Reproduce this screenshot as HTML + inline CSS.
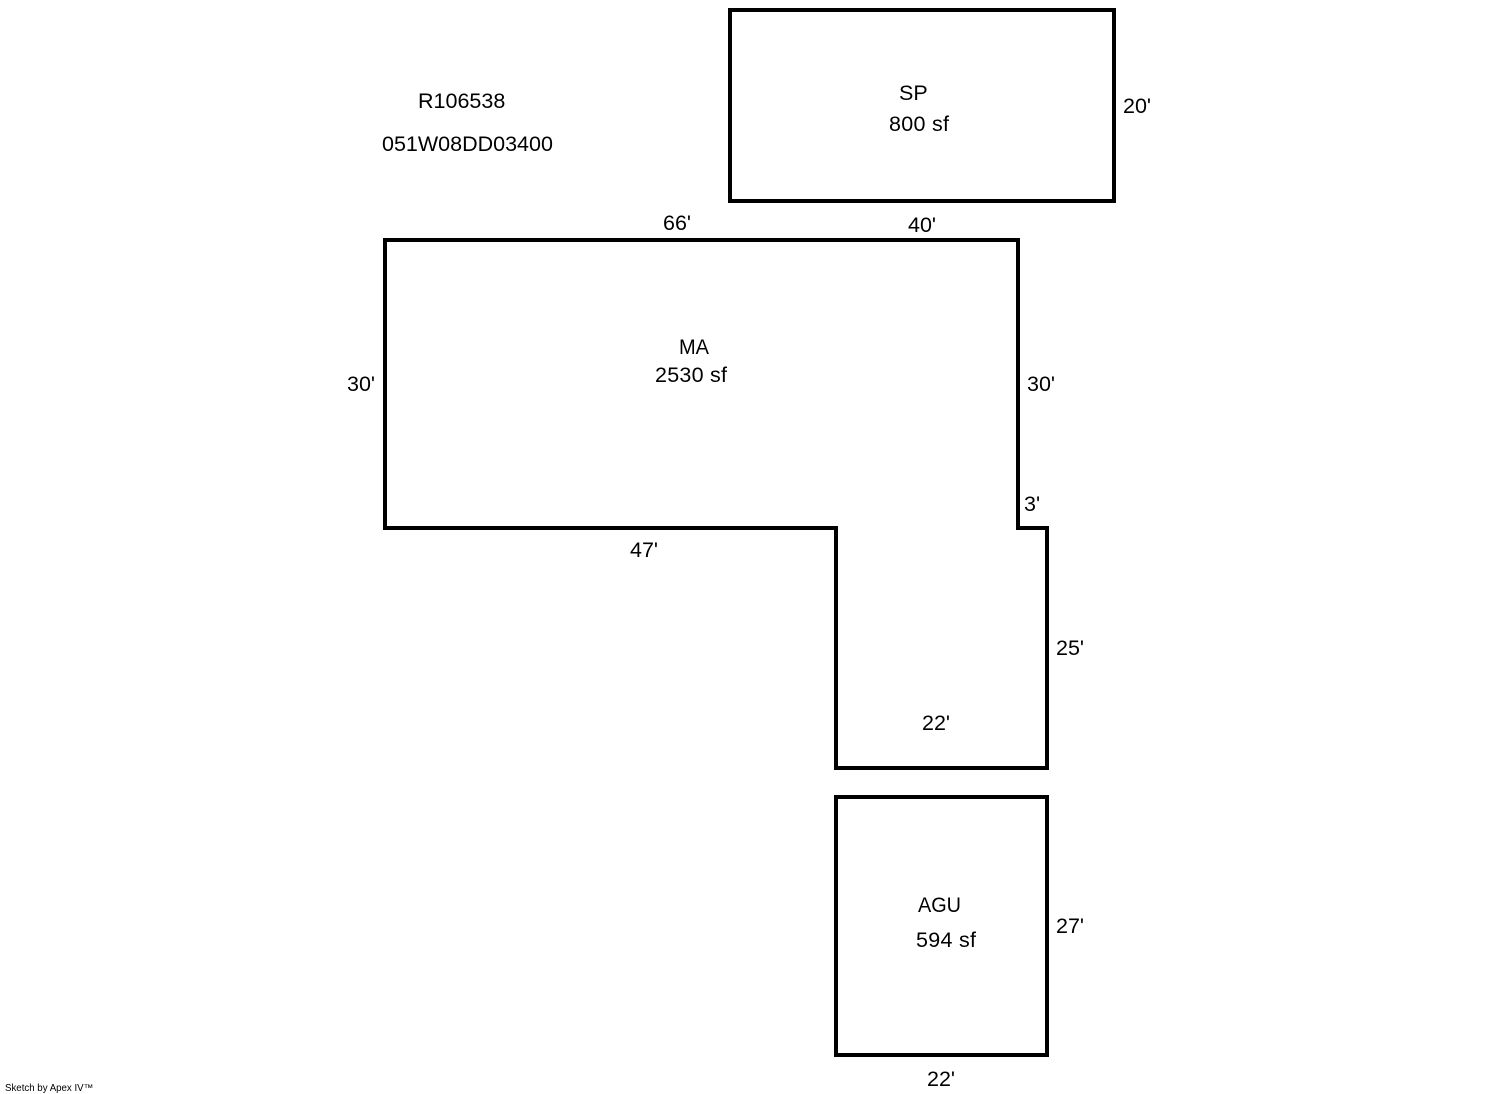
<!DOCTYPE html>
<html>
<head>
<meta charset="utf-8">
<title>Sketch</title>
<style>
html,body{margin:0;padding:0;background:#fff;width:1492px;height:1094px;overflow:hidden}
svg{display:block}
text{font-family:"Liberation Sans",Arial,sans-serif;font-size:21.5px;fill:#000}
</style>
</head>
<body>
<svg width="1492" height="1094" viewBox="0 0 1492 1094" xmlns="http://www.w3.org/2000/svg">
<rect width="1492" height="1094" fill="#fff"/>
<g fill="none" stroke="#000" stroke-width="4" stroke-linejoin="miter" shape-rendering="crispEdges">
<rect x="730" y="10" width="384" height="191"/>
<path d="M385 240H1018V528H1047V768H836V528H385Z"/>
<rect x="836" y="797" width="211" height="258"/>
</g>
<text x="418" y="108">R106538</text>
<text x="382" y="151">051W08DD03400</text>
<text x="899" y="100">SP</text>
<text x="889" y="131" textLength="60">800 sf</text>
<text x="1123" y="113">20'</text>
<text x="663" y="230">66'</text>
<text x="908" y="232">40'</text>
<text x="679" y="354" textLength="30" lengthAdjust="spacingAndGlyphs">MA</text>
<text x="655" y="382" textLength="72">2530 sf</text>
<text x="347" y="391">30'</text>
<text x="1027" y="391">30'</text>
<text x="1024" y="511">3'</text>
<text x="630" y="557">47'</text>
<text x="1056" y="655">25'</text>
<text x="922" y="730">22'</text>
<text x="918" y="912" textLength="43" lengthAdjust="spacingAndGlyphs">AGU</text>
<text x="916" y="947" textLength="60">594 sf</text>
<text x="1056" y="933">27'</text>
<text x="927" y="1086">22'</text>
<text x="5" y="1091" style="font-size:9.7px">Sketch by Apex IV™</text>
</svg>
</body>
</html>
